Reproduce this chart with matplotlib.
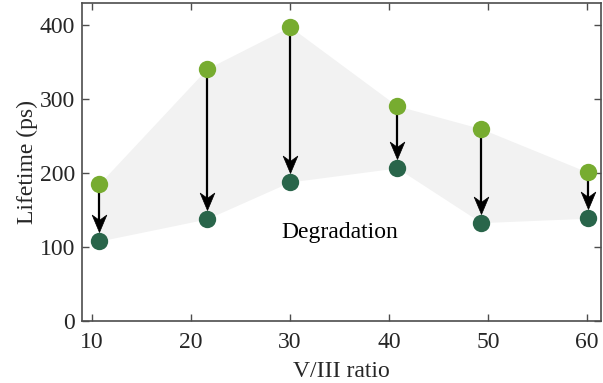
import matplotlib
matplotlib.use("Agg")
import matplotlib.pyplot as plt
from matplotlib.path import Path

plt.rcParams['font.family'] = ['Liberation Serif', 'DejaVu Serif']

ratio = [10.7, 21.6, 30.0, 40.8, 49.3, 60.1]
lifetime_before = [185, 341, 398, 291, 260, 201]
lifetime_after = [108, 138, 188, 207, 133, 139]
x_ticks = [10, 20, 30, 40, 50, 60]
y_ticks = [0, 100, 200, 300, 400]

light_green = '#77ac30'
dark_green = '#29654a'
axis_grey = '#4d4d4d'
text_col = '#262626'

fig = plt.figure(figsize=(6.03, 3.83), dpi=100)
ax = fig.add_axes([82/603, 62/383, 519/603, 318/383])

ax.fill_between(ratio, lifetime_after, lifetime_before, color='#f2f2f2', lw=0, zorder=1)

# notched arrowhead pointing down, tip at the origin
head = Path([(0, 0), (-0.42, 1.0), (0, 0.7), (0.42, 1.0), (0, 0)],
            [Path.MOVETO, Path.LINETO, Path.LINETO, Path.LINETO, Path.CLOSEPOLY])

ms = 12.5
r_data = 9.0 / 0.74     # marker radius in data units
for x, y0, y1 in zip(ratio, lifetime_before, lifetime_after):
    tip = y1 + r_data
    ax.plot([x, x], [y0, tip + 12], color='black', lw=1.6, zorder=2,
            solid_capstyle='butt')
    ax.plot([x], [tip], marker=head, ms=25, color='black', mec='black',
            mew=0.5, zorder=2)

ax.plot(ratio, lifetime_before, 'o', ms=ms, color=light_green, mec='none', zorder=3)
ax.plot(ratio, lifetime_after, 'o', ms=ms, color=dark_green, mec='none', zorder=3)

ax.text(35, 120, 'Degradation', fontsize=17, ha='center', va='center')

ax.set_xlim(9.0, 61.4)
ax.set_ylim(0, 430)
ax.set_xticks(x_ticks)
ax.set_yticks(y_ticks)
ax.set_xlabel('V/III ratio', fontsize=17, color=text_col, labelpad=6)
ax.set_ylabel('Lifetime (ps)', fontsize=17, color=text_col, labelpad=1)
ax.tick_params(direction='in', top=True, right=True, labelsize=17,
               colors=axis_grey, labelcolor=text_col, length=5, width=1)
ax.tick_params(axis='x', pad=8)
ax.tick_params(axis='y', pad=5)
for s in ax.spines.values():
    s.set_color(axis_grey)
    s.set_linewidth(1.2)

fig.savefig('out.png', dpi=100)
